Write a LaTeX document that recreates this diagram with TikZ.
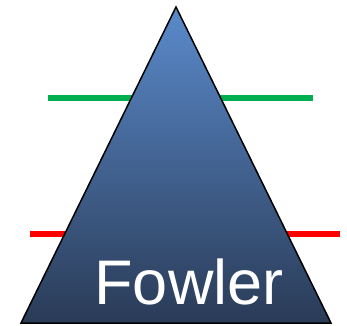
\documentclass[tikz,border=0pt]{standalone}
\usepackage{fontspec}
\setmainfont{Liberation Sans}
\definecolor{topblue}{HTML}{5A8ACB}
\definecolor{botblue}{HTML}{2A3B57}
\definecolor{lgreen}{HTML}{00B050}
\begin{document}
\begin{tikzpicture}[x=1pt,y=-1pt,
  bar/.style={line width=5.5pt},
  tri/.style={top color=topblue,bottom color=botblue,draw=black,line width=1.5pt,line join=miter}]
\useasboundingbox (0,0) rectangle (347,325);
\coordinate (g1) at (48,98);
\coordinate (g2) at (313,98);
\coordinate (r1) at (30,234);
\coordinate (r2) at (340,234);
\draw[bar,lgreen] (g1) -- (g2);
\draw[bar,red] (r1) -- (r2);
\coordinate (apex) at (176,7);
\coordinate (bl) at (21,323);
\coordinate (br) at (331,323);
\shade[tri] (apex) -- (br) -- (bl) -- cycle;
\node[anchor=base,text=white,font=\fontsize{63}{63}\selectfont,inner sep=0pt] (lbl) at (189,304) {Fowler};
\end{tikzpicture}
\end{document}
